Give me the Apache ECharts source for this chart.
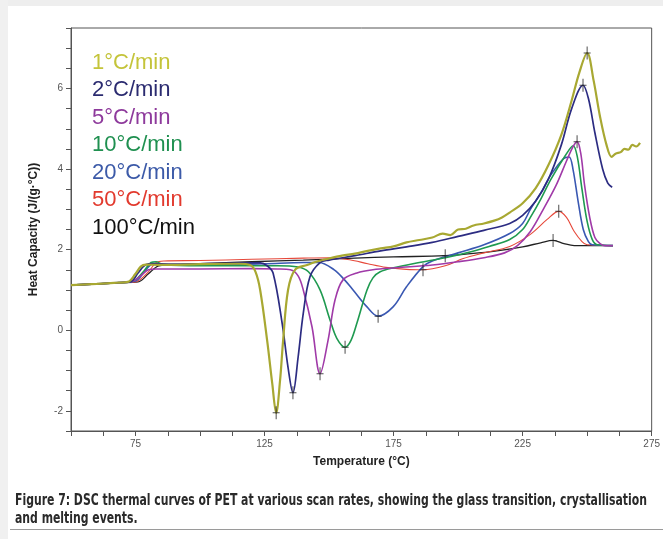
<!DOCTYPE html>
<html>
<head>
<meta charset="utf-8">
<script src="https://cdn.jsdelivr.net/npm/echarts@6/dist/echarts.min.js"></script>
<style>
  html, body { margin: 0; padding: 0; background: #fff; }
  #wrap { position: relative; width: 663px; height: 539px; overflow: hidden; }
  #chart { position: absolute; left: 0; top: 0; width: 663px; height: 539px; }
  .band-top { position: absolute; left: 0; top: 0; width: 663px; height: 6px; background: #eeeeee; }
  .band-left { position: absolute; left: 0; top: 0; width: 8px; height: 539px; background: #f0f0f0; }
  .cap-line {
    position: absolute; left: 15px; white-space: nowrap; transform-origin: 0 50%;
    font-family: 'DejaVu Sans Condensed', 'DejaVu Sans', sans-serif;
    font-weight: bold; font-size: 15px; line-height: 18px; color: #2a2a2a;
  }
  .rule { position: absolute; left: 10px; top: 529px; width: 653px; height: 1px; background: #9a9a9a; }
</style>
</head>
<body>
<div id="wrap">
  <div id="chart"></div>
  <div class="band-top"></div>
  <div class="band-left"></div>
  <div class="cap-line" id="cap1" style="top:491px">Figure 7: DSC thermal curves of PET at various scan rates, showing the glass transition, crystallisation</div>
  <div class="cap-line" id="cap2" style="top:509px">and melting events.</div>
  <div class="rule"></div>
</div>
<script>
// scan rate names
const rateNames = ['1°C/min', '2°C/min', '5°C/min', '10°C/min', '20°C/min', '50°C/min', '100°C/min']
const lineColors = ['#a8a832', '#2c2c82', '#a03aa8', '#1f9a50', '#3a58b2', '#e6483a', '#222222']
const textColors = ['#c4c43a', '#2b2b70', '#8e3a9c', '#1f9050', '#3c5aa8', '#e23a2e', '#111111']

// [temperature °C, heat capacity J/(g·°C)]
const rate1 = [[50,1.12],[60,1.15],[68,1.18],[72,1.2],[75,1.4],[77,1.58],[79,1.63],[85,1.62],[100,1.64],[115,1.65],
  [119.4,1.62],[121.5,1.45],[123.3,1.0],[126,-0.25],[128,-1.33],[129.5,-2.05],[131,-1.25],[132.2,-0.25],[134.1,1.0],
  [136.8,1.5],[141.5,1.62],[145,1.7],[150,1.78],[155,1.85],[160,1.9],[165,1.97],[170,2.03],[175,2.08],[180,2.18],
  [185,2.24],[190,2.3],[194,2.4],[197,2.36],[200,2.5],[203,2.52],[206,2.6],[210,2.65],[214,2.72],[217,2.8],[220,2.92],
  [225,3.15],[230,3.52],[235,4.1],[240,4.85],[244,5.7],[247,6.4],[250,6.88],[252.5,6.2],[255,5.3],[257.5,4.6],
  [259.5,4.3],[261,4.38],[263,4.42],[264.5,4.5],[266,4.48],[267.5,4.6],[269,4.56],[270.5,4.65]]
const rate2 = [[50,1.12],[60,1.15],[68,1.18],[73,1.2],[76,1.42],[78,1.58],[80,1.65],[90,1.64],[110,1.66],[120,1.67],
  [123.3,1.67],[126,1.6],[128.3,1.42],[131.8,0.18],[134.1,-0.92],[136,-1.55],[138,-0.67],[140,0.42],[142.6,1.33],
  [146.5,1.68],[150,1.74],[160,1.85],[170,1.97],[180,2.07],[190,2.18],[200,2.33],[210,2.48],[220,2.65],[225,2.85],
  [230,3.2],[235,3.75],[240,4.6],[244,5.5],[248.4,6.08],[250.5,5.75],[253,4.9],[256,4.0],[258,3.65],[259.7,3.55]]
const rate5 = [[50,1.12],[60,1.15],[68,1.18],[74,1.22],[77,1.35],[80,1.5],[83,1.52],[100,1.52],[120,1.53],[130,1.52],
  [135,1.5],[138,1.35],[140,1.0],[143.4,0.08],[146.5,-1.08],[149.6,-0.25],[152.3,0.75],[155.4,1.25],[160.8,1.42],
  [167,1.5],[176,1.55],[190,1.62],[200,1.7],[210,1.8],[218,1.92],[223,2.1],[228,2.45],[233,3.0],[238,3.6],[242,4.2],
  [244.5,4.55],[246.1,4.68],[247.5,4.4],[249,3.6],[251,2.8],[253,2.3],[255,2.15],[257,2.1],[260,2.1]]
const rate10 = [[50,1.12],[60,1.15],[68,1.18],[74,1.22],[78,1.45],[81,1.68],[83,1.7],[86,1.62],[100,1.6],[120,1.6],
  [130,1.6],[138,1.57],[142,1.45],[146.5,1.0],[150.4,0.25],[153,-0.2],[156.2,-0.42],[158.5,-0.25],[160.8,0.18],
  [164.7,1.0],[167,1.3],[169.8,1.45],[175,1.55],[185,1.68],[195,1.8],[205,1.95],[212,2.08],[220,2.25],[225,2.5],
  [228,2.8],[232,3.25],[236,3.75],[241.5,4.33],[244.6,4.58],[246.2,4.3],[248,3.5],[250,2.7],[252,2.25],[254,2.12],[260,2.1]]
const rate20 = [[50,1.12],[60,1.15],[68,1.18],[75,1.22],[79,1.5],[82,1.66],[85,1.62],[100,1.62],[125,1.65],[140,1.68],
  [146,1.68],[152,1.5],[156,1.25],[159.3,1.0],[164.7,0.58],[169,0.35],[174.8,0.58],[180,1.08],[186.4,1.58],[190,1.72],
  [200,1.92],[210,2.12],[220,2.4],[225,2.65],[228,3.0],[232,3.4],[235.7,3.83],[240.7,4.25],[243,4.3],[244.5,4.0],
  [246.5,3.2],[248.5,2.5],[250.5,2.2],[252,2.12],[260,2.1]]
const rate50 = [[50,1.12],[60,1.15],[68,1.18],[75,1.2],[80,1.45],[83,1.68],[86,1.72],[100,1.73],[120,1.76],[140,1.79],
  [150,1.8],[158,1.75],[165,1.65],[172,1.56],[180,1.51],[186.4,1.5],[195,1.6],[202,1.78],[210,1.92],[220,2.08],
  [228,2.38],[234.5,2.75],[239,2.95],[242,2.8],[245,2.45],[248,2.2],[250,2.12],[260,2.1]]
const rate100 = [[50,1.12],[60,1.15],[68,1.18],[76,1.2],[80,1.4],[84,1.6],[88,1.62],[100,1.65],[120,1.7],[140,1.74],
  [160,1.79],[175,1.82],[195,1.85],[205,1.9],[215,1.97],[225,2.07],[232,2.17],[236.8,2.23],[241,2.15],[245,2.1],[260,2.1]]

// crystallisation minima and melting peaks marked on the curves
const markPoints = [[129.5,-2.05],[136,-1.55],[146.5,-1.08],[156.2,-0.42],[169,0.35],[186.4,1.5],[195,1.85],
  [236.8,2.23],[239,2.95],[246.1,4.68],[248.4,6.08],[250,6.88]]

// axis tick labels
const xTickLabels = [75, 125, 175, 225, 275]
const yTickLabels = [-2, 0, 2, 4, 6]

const curves = [rate1, rate2, rate5, rate10, rate20, rate50, rate100]
const widths = [2.2, 1.7, 1.6, 1.6, 1.6, 1.1, 1.3]

// squeeze the caption to the width of the printed one
const cap1 = document.getElementById('cap1')
const cap2 = document.getElementById('cap2')
const sx = 632 / cap1.getBoundingClientRect().width
cap1.style.transform = 'scaleX(' + sx + ')'
cap2.style.transform = 'scaleX(' + sx + ')'

const myChart = echarts.init(document.getElementById('chart'), null, { renderer: 'canvas' })

const series = curves.map((d, i) => ({
  name: rateNames[i],
  type: 'line',
  data: d,
  smooth: 0.35,
  symbol: 'none',
  lineStyle: { color: lineColors[i], width: widths[i] },
  itemStyle: { color: lineColors[i] },
  z: 10 - i
}))
series.push({
  name: 'marks',
  type: 'scatter',
  data: markPoints,
  symbol: 'path://M3,0 L4,0 L4,6 L7,6 L7,7 L4,7 L4,13 L3,13 L3,7 L0,7 L0,6 L3,6 Z',
  symbolSize: [7, 13],
  itemStyle: { color: '#222' },
  z: 20
})

const option = {
  animation: false,
  grid: {
    left: 71, top: 28, right: 11, bottom: 108,
    show: true, borderColor: '#555', borderWidth: 1
  },
  legend: {
    data: rateNames.map((n, i) => ({ name: n, icon: 'none', textStyle: { color: textColors[i] } })),
    orient: 'vertical',
    left: 82, top: 44,
    itemWidth: 0, itemHeight: 6, itemGap: 0,
    selectedMode: false,
    textStyle: { fontFamily: 'Liberation Sans, Arial, sans-serif', fontSize: 22, lineHeight: 27.5 }
  },
  xAxis: {
    type: 'value',
    min: 50, max: 275, interval: 12.5,
    name: 'Temperature (°C)',
    nameLocation: 'middle', nameGap: 25,
    nameTextStyle: { fontFamily: 'Liberation Sans, Arial, sans-serif', fontWeight: 'bold', fontSize: 12, color: '#222' },
    axisLine: { onZero: false, lineStyle: { color: '#555', width: 1 } },
    axisTick: { show: true, inside: false, length: 5, lineStyle: { color: '#555' } },
    axisLabel: {
      margin: 8, color: '#555', fontSize: 10, fontFamily: 'Liberation Sans, Arial, sans-serif',
      formatter: v => xTickLabels.includes(v) ? String(v) : ''
    },
    splitLine: { show: false }
  },
  yAxis: {
    type: 'value',
    min: -2.5, max: 7.5, interval: 0.5,
    name: 'Heat Capacity (J/(g·°C))',
    nameLocation: 'middle', nameGap: 31, nameRotate: 90,
    nameTextStyle: { fontFamily: 'Liberation Sans, Arial, sans-serif', fontWeight: 'bold', fontSize: 12, color: '#222' },
    axisLine: { show: true, onZero: false, lineStyle: { color: '#555', width: 1 } },
    axisTick: { show: true, inside: false, length: 5, lineStyle: { color: '#555' } },
    axisLabel: {
      margin: 8, color: '#555', fontSize: 10, fontFamily: 'Liberation Sans, Arial, sans-serif',
      formatter: v => yTickLabels.includes(v) ? String(v) : ''
    },
    splitLine: { show: false }
  },
  series: series
}

myChart.setOption(option)
</script>
</body>
</html>
